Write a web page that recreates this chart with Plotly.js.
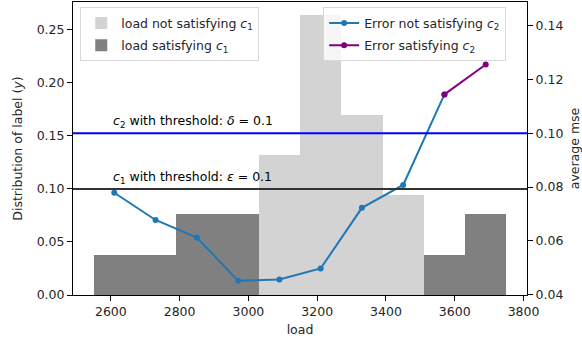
<!DOCTYPE html>
<html>
<head>
<meta charset="utf-8">
<script src="https://cdn.plot.ly/plotly-3.0.1.min.js"></script>
<style>html,body{margin:0;padding:0;background:#fff;}#chart{width:582px;height:339px;}</style>
</head>
<body>
<div id="chart"></div>
<script>
// Histogram of load (fraction per bin, bin width 120)
const loadNotSatX = [3090, 3210, 3330, 3450];
const loadNotSatY = [0.132, 0.264, 0.170, 0.094];
const loadSatX = [2610, 2730, 2850, 2970, 3570, 3690];
const loadSatY = [0.038, 0.038, 0.076, 0.076, 0.038, 0.076];
const binWidth = 120;

// Average mse per bin
const errNotSatX = [2610, 2730, 2850, 2970, 3090, 3210, 3330, 3450, 3570];
const errNotSatY = [0.0779, 0.0678, 0.0613, 0.0452, 0.0457, 0.0498, 0.0723, 0.0808, 0.1144];
const errSatX = [3570, 3690];
const errSatY = [0.1144, 0.1255];

// thresholds
const c1Threshold = 0.1;  // on left axis
const c2Threshold = 0.1;  // on right axis

const FONT = 'DejaVu Sans, sans-serif';
const fs = 12.5;

const traces = [
  {type: 'bar', x: loadNotSatX, y: loadNotSatY, width: binWidth,
   marker: {color: '#d3d3d3', line: {width: 0}}, name: 'load not satisfying <i>c</i><sub>1</sub>',
   legend: 'legend', legendgroup: 'g1', yaxis: 'y'},
  {type: 'bar', x: loadSatX, y: loadSatY, width: binWidth,
   marker: {color: '#808080', line: {width: 0}}, name: 'load satisfying <i>c</i><sub>1</sub>',
   legend: 'legend', legendgroup: 'g2', yaxis: 'y'},
  {type: 'scatter', mode: 'lines+markers', x: errNotSatX, y: errNotSatY, yaxis: 'y2',
   line: {color: '#1f77b4', width: 2}, marker: {color: '#1f77b4', size: 6},
   name: 'Error not satisfying <i>c</i><sub>2</sub>', legend: 'legend2', legendgroup: 'g3'},
  {type: 'scatter', mode: 'lines+markers', x: errSatX, y: errSatY, yaxis: 'y2',
   line: {color: '#800080', width: 2}, marker: {color: '#800080', size: 6},
   name: 'Error satisfying <i>c</i><sub>2</sub>', legend: 'legend2', legendgroup: 'g4'}
];

const layout = {
  width: 582, height: 339,
  margin: {l: 73, r: 55, t: 2, b: 44},
  paper_bgcolor: '#fff', plot_bgcolor: '#fff',
  font: {family: FONT, size: fs, color: '#262626'},
  barmode: 'overlay',
  bargap: 0,
  showlegend: true,
  xaxis: {
    range: [2490, 3810], tickvals: [2600, 2800, 3000, 3200, 3400, 3600, 3800],
    showgrid: false, zeroline: false, showline: true, linecolor: '#000', linewidth: 1, mirror: true,
    ticks: 'outside', ticklen: 5, tickcolor: '#000',
    title: {text: 'load', font: {size: fs, family: FONT}, standoff: 7},
    tickfont: {size: fs, family: FONT}
  },
  yaxis: {
    range: [0, 0.2761], tickvals: [0, 0.05, 0.10, 0.15, 0.20, 0.25], tickformat: '.2f',
    showgrid: false, zeroline: false, showline: true, linecolor: '#000', linewidth: 1,
    ticks: 'outside', ticklen: 5, tickcolor: '#000',
    title: {text: 'Distribution of label (<i>y</i>)', font: {size: fs, family: FONT}, standoff: 11},
    tickfont: {size: fs, family: FONT}
  },
  yaxis2: {
    overlaying: 'y', side: 'right',
    range: [0.03995, 0.1487], tickvals: [0.04, 0.06, 0.08, 0.10, 0.12, 0.14], tickformat: '.2f',
    showgrid: false, zeroline: false, showline: true, linecolor: '#000', linewidth: 1,
    ticks: 'outside', ticklen: 5, tickcolor: '#000',
    title: {text: 'average mse', font: {size: fs, family: FONT}, standoff: 10},
    tickfont: {size: fs, family: FONT}
  },
  legend: {
    x: 0.016, y: 0.982, xanchor: 'left', yanchor: 'top',
    bgcolor: 'rgba(255,255,255,0.8)', bordercolor: '#d9d9d9', borderwidth: 1,
    font: {size: fs, family: FONT}, tracegroupgap: 3, traceorder: 'grouped'
  },
  legend2: {
    x: 0.551, y: 0.982, xanchor: 'left', yanchor: 'top',
    bgcolor: 'rgba(255,255,255,0.8)', bordercolor: '#d9d9d9', borderwidth: 1,
    font: {size: fs, family: FONT}, tracegroupgap: 3, traceorder: 'grouped'
  },
  shapes: [
    {type: 'line', xref: 'paper', x0: 0, x1: 1, yref: 'y', y0: c1Threshold, y1: c1Threshold,
     line: {color: '#333333', width: 2}},
    {type: 'line', xref: 'paper', x0: 0, x1: 1, yref: 'y2', y0: c2Threshold, y1: c2Threshold,
     line: {color: '#0000ff', width: 2}}
  ],
  annotations: [
    {x: 2600, y: c2Threshold, xref: 'x', yref: 'y2', xanchor: 'left', yanchor: 'bottom', yshift: 1,
     text: '<i>c</i><sub>2</sub> with threshold: <i>δ</i> = 0.1', showarrow: false,
     font: {size: fs, family: FONT, color: '#000'}},
    {x: 2600, y: c1Threshold, xref: 'x', yref: 'y', xanchor: 'left', yanchor: 'bottom', yshift: 1,
     text: '<i>c</i><sub>1</sub> with threshold: <i>ε</i> = 0.1', showarrow: false,
     font: {size: fs, family: FONT, color: '#000'}}
  ]
};

Plotly.newPlot('chart', traces, layout, {displayModeBar: false, staticPlot: true});
</script>
</body>
</html>
